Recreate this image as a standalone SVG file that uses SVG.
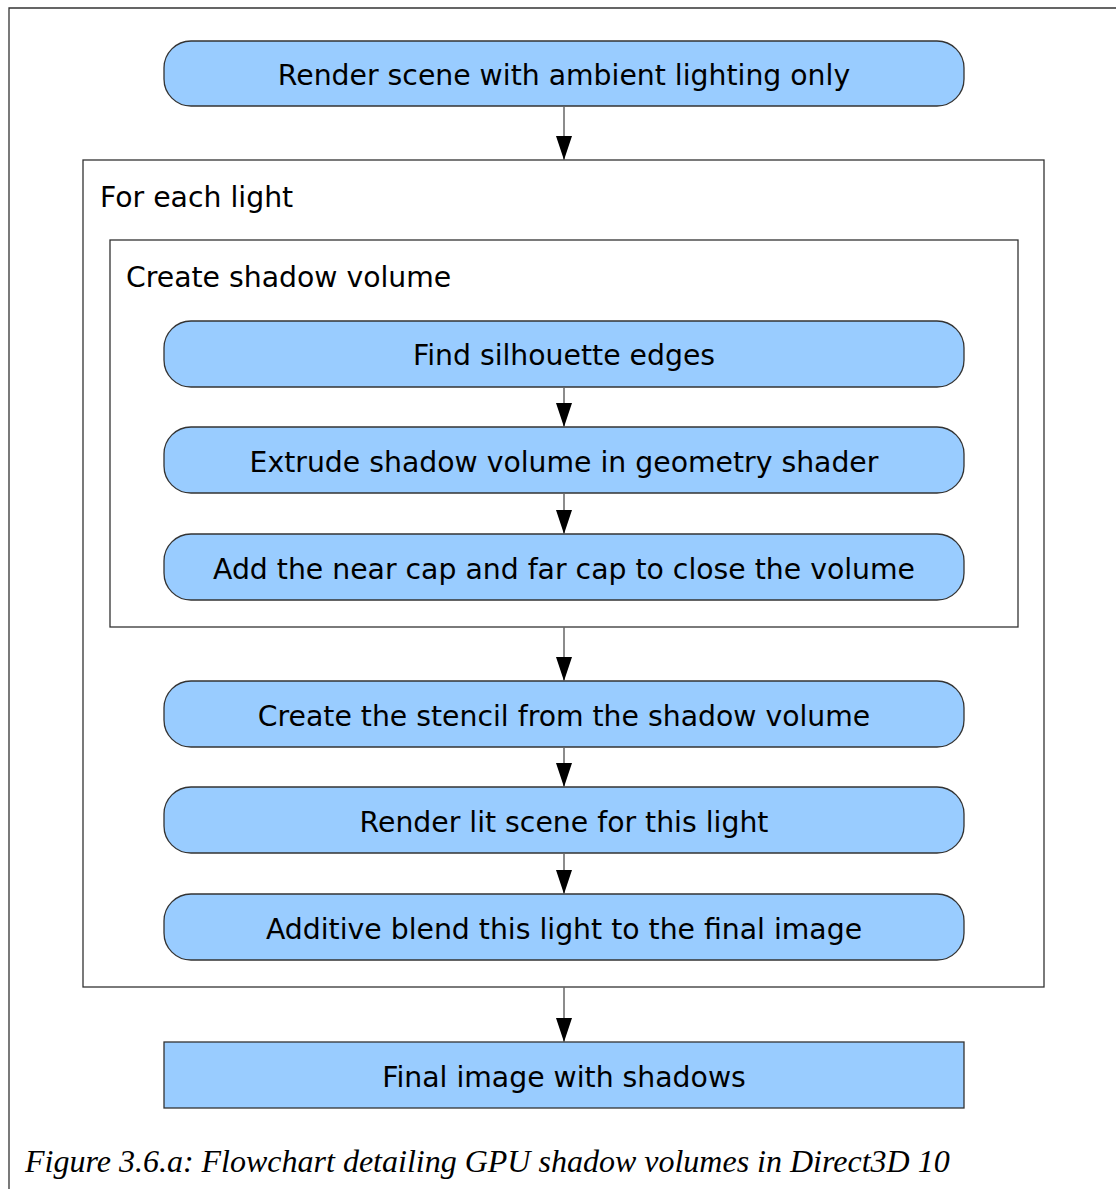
<svg xmlns="http://www.w3.org/2000/svg" width="1116" height="1189" viewBox="0 0 1116 1189">
<defs>
<marker id="ah" viewBox="0 0 24 16" markerWidth="24" markerHeight="16" refX="24" refY="8" orient="auto" markerUnits="userSpaceOnUse">
<path d="M0,0 L24,8 L0,16 Z" fill="#000"/>
</marker>
<style>
.box{fill:#99ccff;stroke:#333;stroke-width:1.3}
.frame{fill:none;stroke:#333;stroke-width:1.3}
.t{font-family:"DejaVu Sans",Verdana,sans-serif;font-size:28.3px;fill:#000}
.c{text-anchor:middle}
.cap{font-family:"Liberation Serif","Times New Roman",serif;font-style:italic;font-size:32px;fill:#000}
.con{stroke:#666;stroke-width:1.5;fill:none}
</style>
</defs>
<rect width="1116" height="1189" fill="#fff"/>
<path class="frame" d="M9,1189 L9,8 L1116,8"/>
<g id="for-each-light">
<rect class="frame" x="83" y="160" width="961" height="827"/>
<text class="t" x="100" y="207">For each light</text>
</g>
<g id="create-shadow-volume">
<rect class="frame" x="110" y="240" width="908" height="387"/>
<text class="t" x="126" y="287">Create shadow volume</text>
</g>
<g id="n1"><rect class="box" x="164" y="41" width="800" height="65" rx="27"/><text class="t c" x="564" y="85">Render scene with ambient lighting only</text></g>
<g id="n2"><rect class="box" x="164" y="321" width="800" height="66" rx="27"/><text class="t c" x="564" y="365">Find silhouette edges</text></g>
<g id="n3"><rect class="box" x="164" y="427" width="800" height="66" rx="27"/><text class="t c" x="564" y="472">Extrude shadow volume in geometry shader</text></g>
<g id="n4"><rect class="box" x="164" y="534" width="800" height="66" rx="27"/><text class="t c" x="564" y="579">Add the near cap and far cap to close the volume</text></g>
<g id="n5"><rect class="box" x="164" y="681" width="800" height="66" rx="27"/><text class="t c" x="564" y="726">Create the stencil from the shadow volume</text></g>
<g id="n6"><rect class="box" x="164" y="787" width="800" height="66" rx="27"/><text class="t c" x="564" y="832">Render lit scene for this light</text></g>
<g id="n7"><rect class="box" x="164" y="894" width="800" height="66" rx="27"/><text class="t c" x="564" y="939">Additive blend this light to the final image</text></g>
<g id="n8"><rect class="box" x="164" y="1042" width="800" height="66"/><text class="t c" x="564" y="1087">Final image with shadows</text></g>
<g id="connectors">
<line class="con" x1="564" y1="106" x2="564" y2="160" marker-end="url(#ah)"/>
<line class="con" x1="564" y1="387" x2="564" y2="427" marker-end="url(#ah)"/>
<line class="con" x1="564" y1="493" x2="564" y2="534" marker-end="url(#ah)"/>
<line class="con" x1="564" y1="627" x2="564" y2="681" marker-end="url(#ah)"/>
<line class="con" x1="564" y1="747" x2="564" y2="787" marker-end="url(#ah)"/>
<line class="con" x1="564" y1="853" x2="564" y2="894" marker-end="url(#ah)"/>
<line class="con" x1="564" y1="987" x2="564" y2="1042" marker-end="url(#ah)"/>
</g>
<text class="cap" x="25" y="1172">Figure 3.6.a: Flowchart detailing GPU shadow volumes in Direct3D 10</text>
</svg>
